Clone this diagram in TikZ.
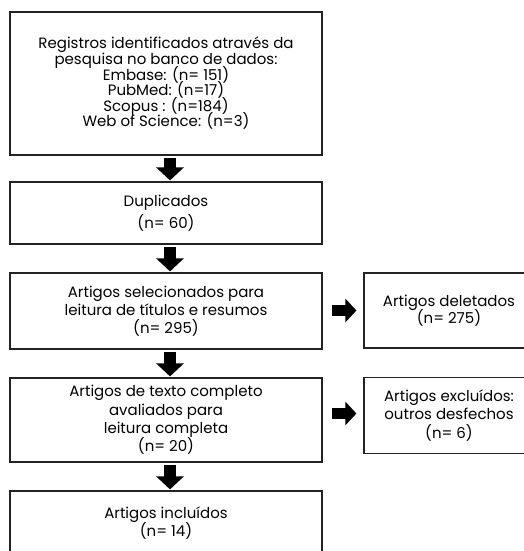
\documentclass[tikz,border=0pt]{standalone}
\usepackage{fontspec}
\setmainfont{Poppins}
\usetikzlibrary{arrows.meta,positioning}
\definecolor{boxedge}{RGB}{35,35,35}
\newcommand\boxfont{\fontsize{15}{15.6}\selectfont\lineskiplimit=-20pt\relax}
\tikzset{
  stage/.style={draw=boxedge,line width=1.2pt,minimum width=312pt,align=center,
                font=\boxfont,inner sep=2pt},
  side/.style={stage,minimum width=170pt},
  flowdown/.style={black,line width=12pt,-{Triangle[width=27pt,length=13pt]},
                   shorten <=2pt,shorten >=1pt},
  flowside/.style={black,line width=11pt,-{Triangle[width=23pt,length=11pt]},
                   shorten <=9pt,shorten >=7pt}
}

\begin{document}
\begin{tikzpicture}[x=1pt,y=-1pt]
  \useasboundingbox (0,0) rectangle (524,551);

  % Main screening column.
  \node[stage,minimum height=143pt] (reg) at (166,83.5)
      {Registros identificados através da\\pesquisa no banco de dados:\\Embase: (n= 151)\\PubMed: (n=17)\\Scopus : (n=184)\\Web of Science: (n=3)};
  \node[stage,minimum height=62pt] (dup) at (166,213) {Duplicados\\[7pt](n= 60)};
  \node[stage,minimum height=76pt] (sel) at (166,311)
      {Artigos selecionados para\\[2.7pt]leitura de títulos e resumos\\[2.7pt](n= 295)};
  \node[stage,minimum height=84pt] (full) at (166,420)
      {Artigos de texto completo\\[2.7pt]avaliados para\\[2.7pt]leitura completa\\[2.7pt](n= 20)};
  \node[stage,minimum height=64pt] (inc) at (166,523) {Artigos incluídos\\[2.7pt](n= 14)};
  \foreach \a/\b in {reg/dup,dup/sel,sel/full,full/inc}
    {\draw[flowdown] ([xshift=4pt]\a.south) -- ([xshift=4pt]\b.north);}

  % Exclusions on the right.
  \node[side,minimum height=75pt] (del) at (449,310.5) {Artigos deletados\\[1.1pt](n= 275)};
  \node[side,minimum height=76pt] (exc) at (449,415.5)
      {Artigos excluídos:\\[2.7pt]outros desfechos\\[2.7pt](n= 6)};
  \draw[flowside] (sel.east |- del.west) -- (del.west);
  \draw[flowside] ([yshift=2pt]full.east |- exc.west) -- ([yshift=2pt]exc.west);
\end{tikzpicture}
\end{document}
